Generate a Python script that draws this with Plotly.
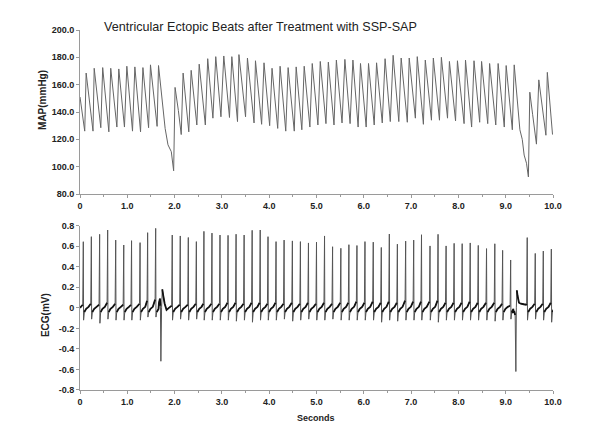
import plotly.graph_objects as go

# ---------------- data ----------------
# MAP turning points (seconds, mmHg)
map_t = [0.00, 0.10, 0.13, 0.275, 0.30, 0.44, 0.48, 0.61, 0.65, 0.78, 0.82, 0.94, 0.99,
         1.11, 1.16, 1.28, 1.33, 1.45, 1.49, 1.63, 1.66, 1.80, 1.86, 1.93, 1.98, 2.01, 2.08,
         2.14, 2.18, 2.30, 2.35, 2.47, 2.52, 2.65, 2.70, 2.81, 2.87, 2.98, 3.04, 3.16, 3.21,
         3.33, 3.36, 3.50, 3.54, 3.68, 3.71, 3.84, 3.89, 4.01, 4.06, 4.18, 4.23, 4.35, 4.40,
         4.53, 4.57, 4.69, 4.74, 4.86, 4.91, 5.03, 5.08, 5.20, 5.25, 5.37, 5.42, 5.54, 5.60,
         5.71, 5.77, 5.88, 5.93, 6.05, 6.10, 6.22, 6.27, 6.39, 6.45, 6.56, 6.62, 6.74, 6.79,
         6.92, 6.96, 7.09, 7.13, 7.26, 7.30, 7.43, 7.47, 7.60, 7.64, 7.77, 7.81, 7.94, 7.98,
         8.12, 8.15, 8.28, 8.33, 8.45, 8.49, 8.62, 8.66, 8.79, 8.84, 8.97, 9.01, 9.14, 9.18,
         9.30, 9.35, 9.39, 9.44, 9.48, 9.51, 9.57, 9.65, 9.70, 9.85, 9.88, 9.99]
map_v = [151, 126, 168.5, 126, 172, 128.5, 172.5, 125.5, 172, 129, 171.5, 129, 173.5,
         126, 173, 125.5, 172.5, 128.5, 174.5, 129.5, 174, 128, 116, 111, 97, 158, 141,
         123.5, 168.5, 125.5, 170.5, 130.5, 175, 130.5, 179, 135.5, 180.5, 136.5, 181, 136, 180.5,
         133, 182, 136.5, 179.5, 132, 177.5, 131, 176, 130, 172, 128, 173.5, 126, 172.5,
         126, 173, 127, 173.5, 129, 175.5, 130.5, 177, 131.5, 176.5, 130.5, 178, 132, 178.5,
         131.5, 178, 129, 175.5, 129, 175.5, 130.5, 176, 132, 179, 133, 181.5, 133, 179.5,
         132.5, 179.5, 135.5, 180.5, 131, 178, 134, 179.5, 134, 180, 135.5, 177, 133.5, 177.5,
         131.5, 178, 129, 177.5, 132.5, 177, 131.5, 175.5, 130.5, 175.5, 129, 174, 127, 174.5,
         127, 120, 108.5, 102.5, 92.5, 154.5, 138, 116.5, 163.5, 123, 169, 123.5]

# ECG normal beats: R-wave time (s), R amplitude, S amplitude, pre-R level (mV)
r_time = [0.07, 0.24, 0.415, 0.585, 0.755, 0.925, 1.09, 1.27, 1.43, 1.60,
          1.95, 2.12, 2.29, 2.46, 2.62, 2.79, 2.96, 3.13, 3.30, 3.47, 3.64, 3.81,
          3.975, 4.145, 4.315, 4.49, 4.66, 4.83, 5.00, 5.17, 5.34, 5.515, 5.685,
          5.855, 6.025, 6.20, 6.37, 6.54, 6.71, 6.885, 7.055, 7.22, 7.40, 7.57,
          7.74, 7.91, 8.08, 8.25, 8.42, 8.595, 8.77, 8.935, 9.105,
          9.455, 9.625, 9.795, 9.965]
r_amp = [0.644, 0.693, 0.716, 0.758, 0.66, 0.612, 0.654, 0.635, 0.732, 0.774,
         0.709, 0.70, 0.685, 0.645, 0.745, 0.728, 0.709, 0.706, 0.717, 0.709, 0.755, 0.758,
         0.693, 0.645, 0.66, 0.652, 0.645, 0.632, 0.64, 0.70, 0.595, 0.58, 0.615,
         0.607, 0.645, 0.64, 0.588, 0.719, 0.62, 0.65, 0.66, 0.712, 0.603, 0.716,
         0.603, 0.628, 0.625, 0.632, 0.608, 0.577, 0.624, 0.56, 0.466,
         0.684, 0.53, 0.553, 0.572]
s_amp = [-0.12, -0.11, -0.15, -0.11, -0.12, -0.12, -0.12, -0.12, -0.09, -0.09,
         -0.12, -0.11, -0.12, -0.11, -0.12, -0.12, -0.12, -0.12, -0.13, -0.12, -0.14, -0.12,
         -0.12, -0.12, -0.11, -0.13, -0.12, -0.11, -0.12, -0.12, -0.11, -0.12, -0.12,
         -0.12, -0.12, -0.12, -0.14, -0.12, -0.13, -0.12, -0.12, -0.12, -0.12, -0.14,
         -0.12, -0.12, -0.12, -0.12, -0.12, -0.12, -0.13, -0.12, -0.11,
         -0.12, -0.11, -0.12, -0.14]
pre_amp = [0.03, 0.04, 0.03, 0.05, 0.04, 0.03, 0.03, 0.04, 0.07, 0.08,
           0.02, 0.03, 0.03, 0.04, 0.04, 0.04, 0.04, 0.05, 0.05, 0.04, 0.05, 0.05,
           0.04, 0.05, 0.04, 0.05, 0.04, 0.05, 0.04, 0.05, 0.04, 0.05, 0.05,
           0.06, 0.05, 0.06, 0.05, 0.06, 0.05, 0.07, 0.06, 0.06, 0.06, 0.07,
           0.05, 0.05, 0.05, 0.06, 0.05, 0.05, 0.05, 0.04, 0.02,
           0.04, 0.04, 0.04, 0.05]

# ECG ectopic beats (time, mV)
ect1_t = [1.67, 1.69, 1.70, 1.71, 1.725, 1.74, 1.76, 1.79, 1.83, 1.88]
ect1_v = [0.05, 0.09, 0.02, -0.52, 0.0, 0.18, 0.12, 0.04, -0.02, 0.0]
ect2_t = [9.14, 9.18, 9.20, 9.215, 9.225, 9.235, 9.25, 9.28, 9.32, 9.38, 9.43]
ect2_v = [-0.05, -0.03, -0.07, -0.62, 0.0, 0.17, 0.12, 0.05, 0.04, 0.035, 0.03]

x_tick_vals = [0, 1, 2, 3, 4, 5, 6, 7, 8, 9, 10]
x_tick_text = ["0", "1.0", "2.0", "3.0", "4.0", "5.0", "6.0", "7.0", "8.0", "9.0", "10.0"]
map_tick_vals = [80, 100, 120, 140, 160, 180, 200]
map_tick_text = ["80.0", "100.0", "120.0", "140.0", "160.0", "180.0", "200.0"]
ecg_tick_vals = [-0.8, -0.6, -0.4, -0.2, 0, 0.2, 0.4, 0.6, 0.8]
ecg_tick_text = ["-0.8", "-0.6", "-0.4", "-0.2", "0", "0.2", "0.4", "0.6", "0.8"]

# ---------------- build ECG polylines ----------------
ecg_t = [0.0]
ecg_v = [0.0]
base_t = [0.0]   # baseline segments (drawn heavier, like the dense noisy trace)
base_v = [0.0]
ectopic_after = {1.60: (ect1_t, ect1_v), 9.105: (ect2_t, ect2_v)}
for i, tr in enumerate(r_time):
    base_t += [tr - 0.012, None, tr + 0.022, tr + 0.06]
    base_v += [pre_amp[i], None, -0.04, -0.01]
    ecg_t += [tr - 0.012, tr, tr + 0.006, tr + 0.022, tr + 0.06]
    ecg_v += [pre_amp[i], r_amp[i], s_amp[i], -0.04, -0.01]
    if tr in ectopic_after:
        et, ev = ectopic_after[tr]
        ecg_t += et
        ecg_v += ev
        base_t += [et[0], et[1], et[2], None, et[5]] + et[6:]
        base_v += [ev[0], ev[1], ev[2], None, ev[5]] + ev[6:]
    elif i + 1 < len(r_time):
        ecg_t += [tr + 0.11]
        ecg_v += [0.01]
        base_t += [tr + 0.11]
        base_v += [0.01]

FONT = "Liberation Sans Narrow, Arial Narrow, Liberation Sans, Arial, sans-serif"
LFONT = "Liberation Sans, Arial, sans-serif"

fig = go.Figure()
fig.add_trace(go.Scatter(x=map_t, y=map_v, mode="lines",
                         line=dict(color="#666666", width=1, simplify=False),
                         xaxis="x", yaxis="y", showlegend=False, hoverinfo="skip"))
fig.add_trace(go.Scatter(x=ecg_t, y=ecg_v, mode="lines",
                         line=dict(color="#555555", width=1, simplify=False),
                         xaxis="x2", yaxis="y2", showlegend=False, hoverinfo="skip"))
fig.add_trace(go.Scatter(x=base_t, y=base_v, mode="lines", connectgaps=False,
                         line=dict(color="#111111", width=1.8, simplify=False),
                         xaxis="x2", yaxis="y2", showlegend=False, hoverinfo="skip"))

axis_common = dict(showline=True, linecolor="#9a9a9a", linewidth=1, showgrid=False,
                   zeroline=False, ticks="outside", ticklen=3, tickcolor="#9a9a9a",
                   tickfont=dict(family=FONT, size=9, color="#222", weight="bold"))
xcommon = dict(axis_common, range=[0, 10], tickvals=x_tick_vals, ticktext=x_tick_text,
               minor=dict(dtick=0.5, ticks="outside", ticklen=2, tickcolor="#9a9a9a"))

fig.update_layout(
    width=600, height=431,
    margin=dict(l=72, r=55, t=22, b=49),
    paper_bgcolor="white", plot_bgcolor="white",
    xaxis=dict(xcommon, domain=[0, 1], anchor="y"),
    yaxis=dict(axis_common, domain=[0.5444, 1], range=[80, 200],
               tickvals=map_tick_vals, ticktext=map_tick_text, anchor="x"),
    xaxis2=dict(xcommon, domain=[0, 1], anchor="y2"),
    yaxis2=dict(axis_common, domain=[0, 0.4564], range=[-0.8, 0.8],
                tickvals=ecg_tick_vals, ticktext=ecg_tick_text, anchor="x2"),
    annotations=[
        dict(text="Ventricular Ectopic Beats after Treatment with SSP-SAP",
             xref="paper", yref="paper", x=0.381, y=1.008, showarrow=False,
             xanchor="center", yanchor="middle",
             font=dict(family=LFONT, size=12.6, color="#222")),
        dict(text="MAP(mmHg)", xref="paper", yref="paper", x=-0.078, y=0.806,
             showarrow=False, textangle=-90, xanchor="center", yanchor="middle",
             font=dict(family=LFONT, size=10, color="#222", weight="bold")),
        dict(text="ECG(mV)", xref="paper", yref="paper", x=-0.074, y=0.208,
             showarrow=False, textangle=-90, xanchor="center", yanchor="middle",
             font=dict(family=LFONT, size=10, color="#222", weight="bold")),
        dict(text="Seconds", xref="paper", yref="paper", x=0.499, y=-0.078,
             showarrow=False, xanchor="center", yanchor="middle",
             font=dict(family=LFONT, size=9, color="#222", weight="bold")),
    ],
)

fig.write_html("out.html")
